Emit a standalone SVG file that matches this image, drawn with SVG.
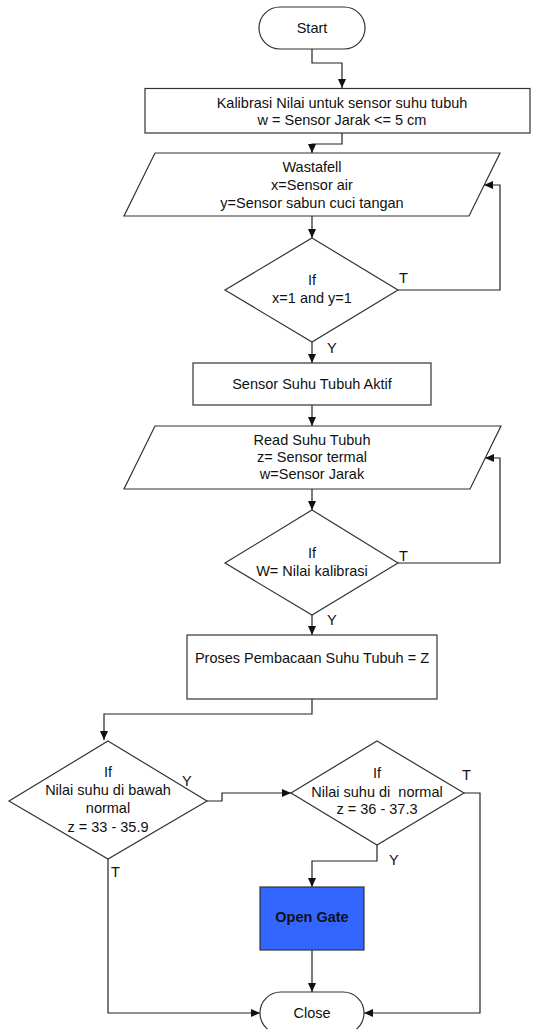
<svg xmlns="http://www.w3.org/2000/svg" width="538" height="1029" viewBox="0 0 538 1029">
<style>
.s{fill:#fff;stroke:#333;stroke-width:1.2}
.c{fill:none;stroke:#222;stroke-width:1.2}
text{font-family:"Liberation Sans",Arial,sans-serif;font-size:14.5px;fill:#111;text-anchor:middle}
.l{text-anchor:start}
</style>
<defs>
<marker id="a" markerUnits="userSpaceOnUse" markerWidth="9" markerHeight="8" refX="9" refY="4" orient="auto">
<path d="M0,0 L9,4 L0,8 z" fill="#111"/>
</marker>
</defs>
<rect width="538" height="1029" fill="#fff"/>
<g id="connectors">
<path class="c" d="M312,49 V63 H342 V88" marker-end="url(#a)"/>
<path class="c" d="M342,133 V144 H312 V153" marker-end="url(#a)"/>
<path class="c" d="M312,216 V238" marker-end="url(#a)"/>
<path class="c" d="M398,290 H500 V185 H484" marker-end="url(#a)"/>
<path class="c" d="M312,342 V363" marker-end="url(#a)"/>
<path class="c" d="M312,405 V426" marker-end="url(#a)"/>
<path class="c" d="M312,489 V510" marker-end="url(#a)"/>
<path class="c" d="M398,563 H500 V458 H485" marker-end="url(#a)"/>
<path class="c" d="M312,615 V635" marker-end="url(#a)"/>
<path class="c" d="M312,699 V714 H104 V740" marker-end="url(#a)"/>
<path class="c" d="M207,801 H222 V793 H291" marker-end="url(#a)"/>
<path class="c" d="M377,845 V861 H312 V887" marker-end="url(#a)"/>
<path class="c" d="M312,950 V992" marker-end="url(#a)"/>
<path class="c" d="M108,859 V1013 H260" marker-end="url(#a)"/>
<path class="c" d="M464,793 H480 V1013 H364" marker-end="url(#a)"/>
<text class="l" x="399" y="283">T</text>
<text class="l" x="327" y="353">Y</text>
<text class="l" x="399" y="561">T</text>
<text class="l" x="327" y="625">Y</text>
<text class="l" x="182" y="786">Y</text>
<text class="l" x="111" y="877">T</text>
<text class="l" x="462" y="780">T</text>
<text class="l" x="389" y="865">Y</text>
</g>
<g id="start">
<rect class="s" x="259" y="7" width="106" height="42" rx="21"/>
<text x="312" y="33">Start</text>
</g>
<g id="kalibrasi">
<rect class="s" x="145" y="88.5" width="385" height="44.5"/>
<text x="342" y="108">Kalibrasi Nilai untuk sensor suhu tubuh</text>
<text x="342" y="125">w = Sensor Jarak &lt;= 5 cm</text>
</g>
<g id="wastafell">
<polygon class="s" points="155,153 500,153 469,216 124,216"/>
<text x="312" y="172">Wastafell</text>
<text x="312" y="190">x=Sensor air</text>
<text x="312" y="208">y=Sensor sabun cuci tangan</text>
</g>
<g id="if1">
<polygon class="s" points="312,238 398,290 312,342 225,290"/>
<text x="312" y="285">If</text>
<text x="312" y="303">x=1 and y=1</text>
</g>
<g id="sensor-aktif">
<rect class="s" x="193" y="363" width="238" height="42"/>
<text x="312" y="389">Sensor Suhu Tubuh Aktif</text>
</g>
<g id="read">
<polygon class="s" points="155,426 501,426 470,489 124,489"/>
<text x="312" y="445">Read Suhu Tubuh</text>
<text x="312" y="462">z= Sensor termal</text>
<text x="312" y="479">w=Sensor Jarak</text>
</g>
<g id="if2">
<polygon class="s" points="312,510 398,563 312,615 225,563"/>
<text x="312" y="558">If</text>
<text x="312" y="576">W= Nilai kalibrasi</text>
</g>
<g id="proses">
<rect class="s" x="187" y="635" width="250" height="64"/>
<text x="312" y="663">Proses Pembacaan Suhu Tubuh = Z</text>
</g>
<g id="if3">
<polygon class="s" points="108,741 207,801 108,859 9,801"/>
<text x="108" y="777">If</text>
<text x="108" y="795">Nilai suhu di bawah</text>
<text x="108" y="813">normal</text>
<text x="108" y="832">z = 33 - 35.9</text>
</g>
<g id="if4">
<polygon class="s" points="377,741 464,793 377,845 291,793"/>
<text x="377" y="778">If</text>
<text x="377" y="797" xml:space="preserve">Nilai suhu di  normal</text>
<text x="377" y="814">z = 36 - 37.3</text>
</g>
<g id="open-gate">
<rect x="260" y="887" width="104" height="63" fill="#3366ff" stroke="#333" stroke-width="1.2"/>
<text x="312" y="922" font-weight="bold">Open Gate</text>
</g>
<g id="close">
<rect class="s" x="260" y="992" width="104" height="42" rx="21"/>
<text x="312" y="1018">Close</text>
</g>
</svg>
